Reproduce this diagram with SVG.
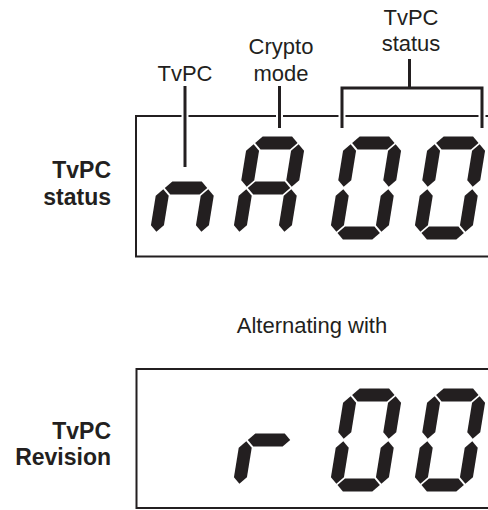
<svg xmlns="http://www.w3.org/2000/svg" width="488" height="510" viewBox="0 0 488 510">
<style>
.lbl{font-family:"Liberation Sans",Arial,sans-serif;font-size:22px;fill:#231f20;text-anchor:middle}
.bold{font-family:"Liberation Sans",Arial,sans-serif;font-size:23px;font-weight:bold;fill:#231f20;text-anchor:end}
.box{fill:none;stroke:#231f20;stroke-width:2}
.ptr{stroke:#231f20;stroke-width:3;fill:none}
.halo{stroke:#fff;stroke-width:7}
.seg{fill:#231f20}
</style>
<defs>
<path id="sa" class="seg" d="M-21.2,-45 l6.5,-6.5 H14.7 l6.5,6.5 l-6.5,6.5 H-14.7 Z"/>
<path id="sg" class="seg" d="M-21.2,0 l6.5,-6.5 H14.7 l6.5,6.5 l-6.5,6.5 H-14.7 Z"/>
<path id="sd" class="seg" d="M-21.2,45 l6.5,-6.5 H14.7 l6.5,6.5 l-6.5,6.5 H-14.7 Z"/>
<path id="sf" class="seg" d="M-22.5,-43.7 l6.5,6.5 V-7.8 l-6.5,6.5 l-6.5,-6.5 V-37.2 Z"/>
<path id="sb" class="seg" d="M22.5,-43.7 l6.5,6.5 V-7.8 l-6.5,6.5 l-6.5,-6.5 V-37.2 Z"/>
<path id="se" class="seg" d="M-22.5,1.3 l6.5,6.5 V37.2 l-6.5,6.5 l-6.5,-6.5 V7.8 Z"/>
<path id="sc" class="seg" d="M22.5,1.3 l6.5,6.5 V37.2 l-6.5,6.5 l-6.5,-6.5 V7.8 Z"/>
</defs>
<rect width="488" height="510" fill="#fff"/>

<g id="label-tvpc-status-left"><text class="bold" x="111" y="178">TvPC</text><text class="bold" x="111" y="205">status</text></g>
<g id="label-tvpc-revision-left"><text class="bold" x="111" y="439">TvPC</text><text class="bold" x="111" y="465">Revision</text></g>
<g id="label-tvpc"><text class="lbl" x="185" y="81">TvPC</text></g>
<g id="label-crypto"><text class="lbl" x="281" y="54">Crypto</text><text class="lbl" x="281" y="81">mode</text></g>
<g id="label-status"><text class="lbl" x="411" y="25">TvPC</text><text class="lbl" x="411" y="51">status</text></g>
<g id="label-alternating"><text class="lbl" x="312" y="333">Alternating with</text></g>

<g id="display-top">
<path class="box" d="M495,116 H136 V256.5 H495"/>
<g id="digit-n" transform="translate(186,188) skewX(-9.25)"><use href="#sg"/><use href="#se"/><use href="#sc"/></g>
<g id="digit-A" transform="translate(269,188) skewX(-9.25)"><use href="#sa"/><use href="#sb"/><use href="#sc"/><use href="#se"/><use href="#sf"/><use href="#sg"/></g>
<g id="digit-0a" transform="translate(366,188) skewX(-9.25)"><use href="#sa"/><use href="#sb"/><use href="#sc"/><use href="#sd"/><use href="#se"/><use href="#sf"/></g>
<g id="digit-0b" transform="translate(450,188) skewX(-9.25)"><use href="#sa"/><use href="#sb"/><use href="#sc"/><use href="#sd"/><use href="#se"/><use href="#sf"/></g>
</g>

<g id="display-bottom">
<path class="box" d="M495,369 H136.5 V508 H495"/>
<g id="digit-r" transform="translate(269,440) skewX(-9.25)"><use href="#sg"/><use href="#se"/></g>
<g id="digit-0c" transform="translate(366,440) skewX(-9.25)"><use href="#sa"/><use href="#sb"/><use href="#sc"/><use href="#sd"/><use href="#se"/><use href="#sf"/></g>
<g id="digit-0d" transform="translate(450,440) skewX(-9.25)"><use href="#sa"/><use href="#sb"/><use href="#sc"/><use href="#sd"/><use href="#se"/><use href="#sf"/></g>
</g>

<g id="connectors">
<line class="halo" x1="185" y1="110" x2="185" y2="122"/>
<line class="ptr" x1="185" y1="86" x2="185" y2="167"/>
<line class="halo" x1="279.5" y1="110" x2="279.5" y2="122"/>
<line class="ptr" x1="279.5" y1="86" x2="279.5" y2="128"/>
<line class="halo" x1="342" y1="110" x2="342" y2="122"/>
<line class="halo" x1="482" y1="110" x2="482" y2="122"/>
<path class="ptr" d="M342,128 V88 H482 V128"/>
<line class="ptr" x1="409.5" y1="59" x2="409.5" y2="88"/>
</g>
</svg>
